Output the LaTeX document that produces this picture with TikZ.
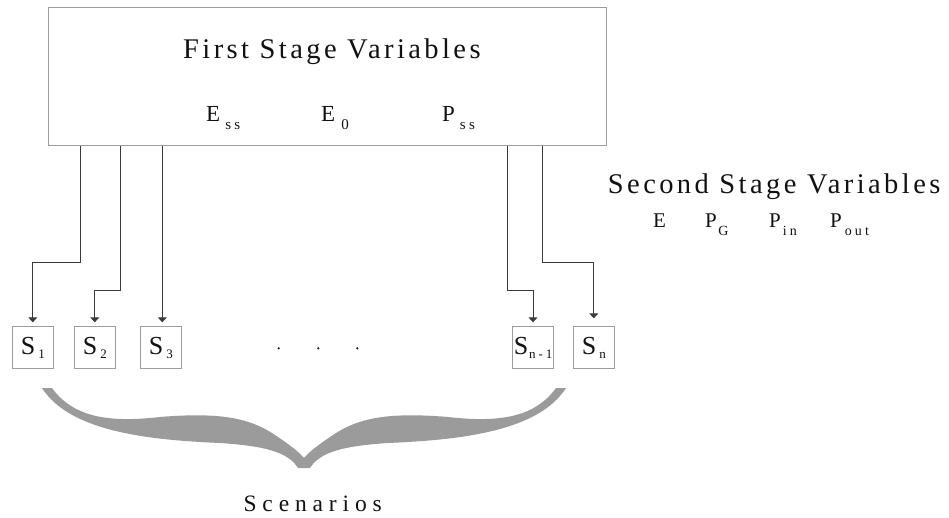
\documentclass[tikz,border=0pt]{standalone}
\usepackage{fontspec}
\setmainfont{Liberation Serif}
\newfontfamily\trackedfont[LetterSpace=12]{Liberation Serif}
\newfontfamily\widefont[LetterSpace=25]{Liberation Serif}
\newfontfamily\subsfont[LetterSpace=22]{Liberation Serif}
\usetikzlibrary{arrows.meta}

% main symbol, gap, subscript, drop of the subscript, subscript size
\newcommand\symsub[5]{#1\hspace{#2}\raisebox{-#4}{\fontsize{#5}{#5}\subsfont #3}}

\definecolor{framegray}{HTML}{9C9C9C}
\definecolor{linegray}{HTML}{3A3A3A}
\definecolor{bracegray}{HTML}{9B9B9B}
\definecolor{inkcol}{HTML}{111111}

\begin{document}
\begin{tikzpicture}[x=1pt,y=-1pt,
  frame/.style={draw=framegray,line width=0.9pt,inner sep=0pt},
  scenbox/.style={frame,minimum width=41pt,minimum height=41.5pt,
    font=\fontsize{26}{26}\selectfont,text=inkcol},
  conn/.style={draw=linegray,line width=1pt,
    -{Triangle[width=9pt,length=5pt]},shorten >=4pt},
  title/.style={anchor=base west,inner sep=0pt,text=inkcol,
    font=\fontsize{28.5}{28.5}\trackedfont},
  var1/.style={anchor=base west,inner sep=0pt,text=inkcol,
    font=\fontsize{23}{23}\selectfont},
  var2/.style={anchor=base west,inner sep=0pt,text=inkcol,
    font=\fontsize{21}{21}\selectfont}]
\useasboundingbox (0,0) rectangle (949,518);

% first stage block
\node[frame,minimum width=557.7pt,minimum height=138.4pt] (top) at (327.15,76.5) {};
\node[title] (t1) at (183,59) {First Stage Variables};
\node[var1] (ess) at (206,121.7) {\symsub{E}{5pt}{ss}{8.3pt}{15}};
\node[var1] (e0)  at (321,121.7) {\symsub{E}{6pt}{0}{7.5pt}{15}};
\node[var1] (pss) at (442,121.7) {\symsub{P}{5pt}{ss}{8.3pt}{15}};

% second stage label
\node[title] (t2) at (607.7,194) {Second Stage Variables};
\node[var2] (e)    at (653,227.3) {E};
\node[var2] (pg)   at (705,227.3) {\symsub{P}{1.5pt}{G}{8.4pt}{14}};
\node[var2] (pin)  at (769,227.3) {\symsub{P}{2pt}{in}{8.4pt}{14}};
\node[var2] (pout) at (830,227.3) {\symsub{P}{3pt}{out}{8.4pt}{14}};

% scenario boxes
\node[scenbox] (s1)  at (32.8,347.5)  {\symsub{S}{3pt}{1}{4pt}{13}};
\node[scenbox] (s2)  at (94.8,347.5)  {\symsub{S}{3pt}{2}{4pt}{13}};
\node[scenbox] (s3)  at (160.8,347.5) {\symsub{S}{3pt}{3}{4pt}{13}};
\node[scenbox] (sn1) at (533,347.5)   {\symsub{S}{1pt}{n-1}{4pt}{13}};
\node[scenbox] (sn)  at (593.8,347.5) {\symsub{S}{3pt}{n}{4pt}{13}};

% ellipsis between the scenarios
\foreach \d/\x in {d1/278.7,d2/318.3,d3/357.3}
  \node[circle,fill=inkcol,inner sep=0pt,minimum size=2.4pt] (\d) at (\x,348.3) {};

% connectors from the first stage block to the scenarios
\draw[conn] (80,0 |- top.south)    -- (80,262.3)    -| (s1.north);
\draw[conn] (120.7,0 |- top.south) -- (120.7,290.7) -| (s2.north);
\draw[conn] (162.3,0 |- top.south) -- (162.3,0 |- s3.north);
\draw[conn] (507.7,0 |- top.south) -- (507.7,290.7) -| (sn1.north);
\draw[conn,shorten >=8pt] (542.7,0 |- top.south) -- (542.7,262.3) -| (sn.north);

% curly brace under the scenarios
\fill[bracegray] (42,388) -- (52,388)
  .. controls (75,420) and (115,422) .. (160,417)
  .. controls (220,412) and (250,418) .. (275,435)
  .. controls (290,445) and (299,452) .. (304,458)
  .. controls (309,452) and (318,445) .. (333,435)
  .. controls (358,418) and (388,412) .. (448,417)
  .. controls (493,422) and (533,420) .. (556,388)
  -- (566,388)
  .. controls (538,432) and (458,440) .. (388,443)
  .. controls (343,446) and (320,452) .. (310,468)
  -- (298,468)
  .. controls (288,452) and (265,446) .. (220,443)
  .. controls (150,440) and (70,432) .. (42,388) -- cycle;

\node[anchor=base west,inner sep=0pt,text=inkcol,
  font=\fontsize{23.5}{23.5}\widefont] (scen) at (243.3,511.7) {Scenarios};
\end{tikzpicture}
\end{document}
